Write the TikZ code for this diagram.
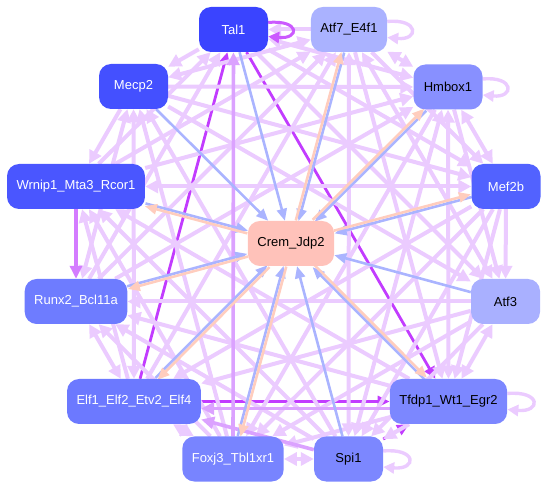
\documentclass[tikz,border=0pt]{standalone}
\usepackage{fontspec}
\setmainfont{Liberation Sans}
\usetikzlibrary{arrows.meta,calc}
\pgfdeclarelayer{bg}
\pgfsetlayers{bg,main}
\definecolor{lite}{HTML}{EBCBFF}
\definecolor{mid}{HTML}{DBA2FF}
\definecolor{strong}{HTML}{D47CFF}
\definecolor{deep}{HTML}{C23CFF}
\definecolor{blu}{HTML}{AAB4FF}
\definecolor{pch}{HTML}{FFCDBE}
\definecolor{cT}{HTML}{3A44FF}
\definecolor{cA}{HTML}{AAB2FF}
\definecolor{cM}{HTML}{4450FF}
\definecolor{cH}{HTML}{8890FF}
\definecolor{cW}{HTML}{4A56FF}
\definecolor{cMf}{HTML}{5262FF}
\definecolor{cC}{HTML}{FFC2BA}
\definecolor{cR}{HTML}{6E7CFF}
\definecolor{cA3}{HTML}{A9B0FF}
\definecolor{cE}{HTML}{6C79FF}
\definecolor{cTf}{HTML}{7C87FF}
\definecolor{cF}{HTML}{7884FF}
\definecolor{cS}{HTML}{7C87FF}
\tikzset{
  gnode/.style={rounded corners=12pt, minimum width=69pt, minimum height=45pt,
    inner xsep=9.5pt, font=\fontsize{13}{15}\selectfont, text=white},
  gnodedark/.style={gnode, text=black},
  ltedge/.style={draw=lite, line width=4pt, -{Triangle[length=13pt,width=13pt]}},
  ltboth/.style={draw=lite, line width=4pt, {Triangle[length=13pt,width=13pt]}-{Triangle[length=13pt,width=13pt]}},
  mdedge/.style={draw=mid, line width=3.6pt, -{Triangle[length=13pt,width=12pt]}},
  stedge/.style={draw=strong, line width=3.4pt, -{Triangle[length=13pt,width=12pt]}},
  dkedge/.style={draw=deep, line width=2.8pt, -{Triangle[length=12pt,width=11pt]}},
  bledge/.style={draw=blu, line width=2.6pt, -{Triangle[length=12pt,width=10pt]}},
  peedge/.style={draw=pch, line width=2.6pt, -{Triangle[length=12pt,width=10pt]}},
  ltloop/.style={draw=lite, line width=3.4pt, -{Triangle[length=11pt,width=11pt]}},
  dkloop/.style={draw=deep!85, line width=3pt, -{Triangle[length=11pt,width=11pt]}},
}
\newcommand\crempair[1]{%
  \path let \p1=($(#1)!1.4pt!90:(C)$), \p2=(#1) in
    coordinate (op) at (\x1-\x2,\y1-\y2)
    coordinate (on) at (\x2-\x1,\y2-\y1);
  \draw[bledge, transform canvas={shift={(op)}}] (#1) -- (C);
  \draw[peedge, transform canvas={shift={(on)}}] (C) -- (#1);
}
\begin{document}
\begin{tikzpicture}[x=1pt,y=-1pt]
\useasboundingbox (0,0) rectangle (547,489);
% nodes
\node[gnode, fill=cT] (T) at (233.5,29.5) {Tal1};
\node[gnodedark, fill=cA] (A7) at (349,29.5) {Atf7\_E4f1};
\node[gnode, fill=cM] (M) at (133.5,86.5) {Mecp2};
\node[gnodedark, fill=cH] (H) at (448,87) {Hmbox1};
\node[gnode, fill=cW] (W) at (76,186.5) {Wrnip1\_Mta3\_Rcor1};
\node[gnode, fill=cMf] (Mf) at (506,186.5) {Mef2b};
\node[gnodedark, fill=cC] (C) at (291,243.5) {Crem\_Jdp2};
\node[gnode, fill=cR] (R) at (76,301.5) {Runx2\_Bcl11a};
\node[gnodedark, fill=cA3] (A3) at (505.5,301.5) {Atf3};
\node[gnode, fill=cE] (E) at (134,401.5) {Elf1\_Elf2\_Etv2\_Elf4};
\node[gnodedark, fill=cTf] (Tf) at (448.5,401.5) {Tfdp1\_Wt1\_Egr2};
\node[gnode, fill=cF] (F) at (233,459) {Foxj3\_Tbl1xr1};
\node[gnodedark, fill=cS] (S) at (348.5,459) {Spi1};

\begin{pgfonlayer}{bg}
% dark edges
\draw[dkedge] (E) -- (T);
\draw[dkedge] (T) -- (Tf);
\draw[dkedge] (E) -- (Tf);
\draw[dkedge] (S) -- (Tf);
% light edges, neighbours
\draw[ltedge] (A7) -- (T);
\draw[ltboth] (A7) -- (H);
\draw[ltboth] (H) -- (Mf);
\draw[ltedge] (Mf) -- (A3);
\draw[ltboth] (A3) -- (Tf);
\draw[ltedge] (Tf) -- (S);
\draw[ltboth] (S) -- (F);
\draw[ltboth] (F) -- (E);
\draw[ltboth] (E) -- (R);
\draw[ltedge] (M) -- (W);
\draw[ltedge] (T) -- (M);
% two apart
\draw[ltboth] (T) -- (H);
\draw[ltedge] (A7) -- (Mf);
\draw[ltedge] (H) -- (A3);
\draw[ltedge] (Mf) -- (Tf);
\draw[ltedge] (A3) -- (S);
\draw[ltedge] (Tf) -- (F);
\draw[ltedge] (F) -- (R);
\draw[ltedge] (E) -- (W);
\draw[ltboth] (R) -- (M);
\draw[ltedge] (W) -- (T);
\draw[ltboth] (M) -- (A7);
% three apart
\draw[ltedge] (T) -- (Mf);
\draw[ltboth] (A7) -- (A3);
\draw[ltboth] (H) -- (Tf);
\draw[ltedge] (Mf) -- (S);
\draw[ltedge] (A3) -- (F);
\draw[ltedge] (S) -- (R);
\draw[ltedge] (F) -- (W);
\draw[ltboth] (E) -- (M);
\draw[ltedge] (R) -- (T);
\draw[ltedge] (W) -- (A7);
\draw[ltedge] (M) -- (H);
% four apart
\draw[ltedge] (T) -- (A3);
\draw[ltedge] (A7) -- (Tf);
\draw[ltboth] (H) -- (S);
\draw[ltedge] (Mf) -- (F);
\draw[ltedge] (A3) -- (E);
\draw[ltedge] (Tf) -- (R);
\draw[ltedge] (S) -- (W);
\draw[ltedge] (F) -- (M);
\draw[ltedge] (R) -- (A7);
\draw[ltedge] (W) -- (H);
\draw[ltedge] (M) -- (Mf);
% five apart
\draw[ltboth] (A7) -- (S);
\draw[ltedge] (H) -- (F);
\draw[ltedge] (Mf) -- (E);
\draw[ltedge] (A3) -- (R);
\draw[ltedge] (Tf) -- (W);
\draw[ltedge] (S) -- (M);
\draw[ltedge] (E) -- (A7);
\draw[ltedge] (R) -- (H);
\draw[ltboth] (W) -- (Mf);
\draw[ltedge] (M) -- (A3);
% medium edges
\draw[mdedge] (F) -- (T);
\draw[mdedge] (S) -- (E);
\draw[mdedge] ([yshift=-7pt]Tf.west) -- ([yshift=-7pt]E.east);
\draw[stedge] (W) -- (R);
% loops
\draw[dkloop] ([yshift=7pt]T.east) .. controls +(32pt,3pt) and +(32pt,-3pt) .. ([yshift=-7pt]T.east);
\draw[ltloop] ([yshift=8pt]A7.east) .. controls +(32pt,3pt) and +(32pt,-3pt) .. ([yshift=-8pt]A7.east);
\draw[ltloop] ([yshift=8pt]H.east) .. controls +(32pt,3pt) and +(32pt,-3pt) .. ([yshift=-8pt]H.east);
\draw[ltloop] ([yshift=8pt]Tf.east) .. controls +(34pt,3pt) and +(34pt,-3pt) .. ([yshift=-8pt]Tf.east);
\draw[ltloop] ([yshift=8pt]S.east) .. controls +(34pt,3pt) and +(34pt,-3pt) .. ([yshift=-8pt]S.east);
% edges at Crem_Jdp2
\draw[bledge] (T) -- (C);
\draw[bledge] (M) -- (C);
\draw[bledge] (A3) -- (C);
\draw[bledge] (S) -- (C);
\crempair{A7}
\crempair{H}
\crempair{Mf}
\crempair{W}
\crempair{R}
\crempair{E}
\crempair{Tf}
\crempair{F}
\end{pgfonlayer}
\end{tikzpicture}
\end{document}
